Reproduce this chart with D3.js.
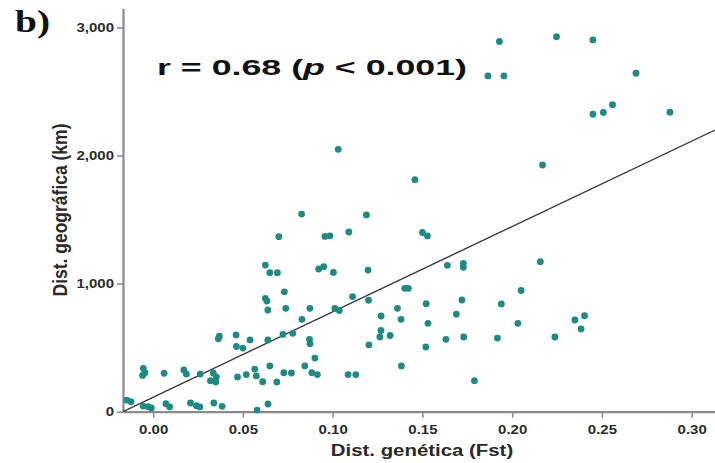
<!DOCTYPE html>
<html>
<head>
<meta charset="utf-8">
<script src="https://cdn.jsdelivr.net/npm/d3@7"></script>
<style>
  html, body { margin: 0; padding: 0; background: #fff; }
  svg { display: block; }
  text { font-family: "Liberation Sans", Arial, sans-serif; }
</style>
</head>
<body>
<svg id="chart" width="715" height="463"></svg>
<script>
// Genetic distance (Fst) vs geographic distance (km) for each population pair
const fst = [
  0.1929, 0.2247, 0.2450, 0.1865, 0.1954, 0.2690, 0.2450, 0.2508, 0.2559, 0.2879,
  0.2169, 0.1458, 0.1031, 0.0827, 0.1188, 0.0700, 0.0957, 0.0985, 0.1090, 0.1500,
  0.1528, 0.0625, 0.0650, 0.0692, 0.0922, 0.0950, 0.1004, 0.1197, 0.1639, 0.1728,
  0.1728, 0.2157, 0.0731, 0.0625, 0.0634, 0.0639, 0.0739, 0.0873, 0.1012, 0.1037,
  0.1111, 0.1200, 0.1402, 0.1422, 0.1361, 0.1521, 0.1720, 0.1940, 0.2050, 0.0829,
  0.1270, 0.1381, 0.1531, 0.1689, 0.2032, 0.2349, 0.2403, 0.2384, 0.0369, 0.0363,
  0.0462, 0.0540, 0.0464, 0.0500, 0.0639, 0.0723, 0.0778, 0.0871, 0.0874, 0.1269,
  0.1263, 0.1320, 0.1202, 0.1631, 0.1730, 0.1918, 0.2238, 0.1519, 0.0901, -0.0055,
  -0.0046, -0.0059, 0.0061, 0.0171, 0.0185, 0.0262, 0.0335, 0.0352, 0.0319, 0.0349,
  0.0470, 0.0519, 0.0566, 0.0575, 0.0610, 0.0650, 0.0689, 0.0728, 0.0770, 0.0845,
  0.0884, 0.0915, 0.1086, 0.1129, 0.1383, 0.1790, -0.0147, -0.0124, -0.0056, -0.0028,
  -0.0010, 0.0071, 0.0092, 0.0208, 0.0241, 0.0260, 0.0338, 0.0384, 0.0579, 0.0640
];
const distKm = [
  2890, 2927, 2902, 2621, 2621, 2642, 2322, 2336, 2397, 2338,
  1926, 1811, 2048, 1543, 1536, 1366, 1368, 1373, 1403, 1399,
  1372, 1145, 1085, 1085, 1114, 1132, 1087, 1106, 1143, 1158,
  1127, 1171, 936, 885, 864, 794, 807, 807, 806, 790,
  899, 870, 963, 963, 807, 843, 872, 841, 946, 721,
  747, 721, 690, 761, 690, 716, 749, 646, 589, 569,
  599, 560, 509, 497, 560, 603, 612, 565, 530, 634,
  583, 595, 521, 565, 583, 575, 583, 505, 419, 339,
  304, 283, 300, 326, 294, 294, 302, 271, 242, 232,
  271, 290, 333, 279, 234, 357, 232, 304, 302, 357,
  304, 290, 290, 290, 357, 242, 91, 78, 44, 39,
  29, 62, 37, 68, 47, 37, 68, 42, 13, 60
];

// Axis ticks
const xTicks = [0, 0.05, 0.10, 0.15, 0.20, 0.25, 0.30];
const yTicks = [0, 1000, 2000, 3000];

// Least-squares fit line (km = intercept + slope * Fst)
const fitIntercept = 113;
const fitSlope = 6664;

const panelLabel = "b)";
const corrLabel = { r: "r = 0.68 (", p: "p", rest: " < 0.001)" };
const xTitle = "Dist. genética (Fst)";
const yTitle = "Dist. geográfica (km)";

const svg = d3.select("#chart");

const x = d3.scaleLinear().domain([-0.0168, 0.313]).range([123, 715]);
const y = d3.scaleLinear().domain([0, 3150]).range([411.7, 8.2]);

const axisColor = "#8a8a8a";
const textColor = "#2a2a2a";

// Y axis
const yAxis = svg.append("g")
  .attr("transform", `translate(${x.range()[0]},0)`)
  .call(d3.axisLeft(y).tickValues(yTicks).tickFormat(d3.format(",")).tickSize(6).tickSizeOuter(0).tickPadding(3));
yAxis.select(".domain").attr("stroke", axisColor).attr("stroke-width", 2.2);
yAxis.selectAll(".tick line").attr("stroke", axisColor).attr("stroke-width", 1.5);
yAxis.selectAll(".tick text")
  .attr("fill", textColor)
  .attr("font-size", 12.5)
  .attr("font-weight", "bold")
  .attr("x", -9 / 1.2)
  .attr("transform", "scale(1.2,1)");

// X axis
const xAxis = svg.append("g")
  .attr("transform", `translate(0,${y.range()[0]})`)
  .call(d3.axisBottom(x).tickValues(xTicks).tickFormat(d3.format(".2f")).tickSize(6).tickSizeOuter(0).tickPadding(7));
xAxis.select(".domain").attr("stroke", axisColor).attr("stroke-width", 2.2);
xAxis.selectAll(".tick line").attr("stroke", axisColor).attr("stroke-width", 1.5);
xAxis.selectAll(".tick text")
  .attr("fill", textColor)
  .attr("font-size", 12.5)
  .attr("font-weight", "bold")
  .attr("transform", "scale(1.2,1)");

// Fit line across the full x domain
const [x0, x1] = x.domain();
svg.append("line")
  .attr("x1", x(x0)).attr("y1", y(fitIntercept + fitSlope * x0))
  .attr("x2", x(x1)).attr("y2", y(fitIntercept + fitSlope * x1))
  .attr("stroke", "#3a3a3a")
  .attr("stroke-width", 1.4);

// Population pairs
const points = fst.map((f, i) => ({ f, d: distKm[i] }));
svg.append("g")
  .selectAll("circle")
  .data(points)
  .join("circle")
  .attr("cx", p => x(p.f))
  .attr("cy", p => y(p.d))
  .attr("r", 3.4)
  .attr("fill", "#1f8a82");

// Axis titles
svg.append("text")
  .attr("transform", "translate(422,456) scale(1.2,1)")
  .attr("text-anchor", "middle")
  .attr("font-size", 17)
  .attr("font-weight", "bold")
  .attr("fill", textColor)
  .text(xTitle);

svg.append("text")
  .attr("transform", "translate(67,210) rotate(-90) scale(1,1.2)")
  .attr("text-anchor", "middle")
  .attr("font-size", 17.5)
  .attr("font-weight", "bold")
  .attr("fill", textColor)
  .text(yTitle);

// Correlation annotation
const corr = svg.append("text")
  .attr("x", 157)
  .attr("y", 75)
  .attr("font-size", 22)
  .attr("font-weight", "900")
  .attr("fill", "#111")
  .attr("textLength", 310)
  .attr("lengthAdjust", "spacingAndGlyphs");
corr.append("tspan").text(corrLabel.r);
corr.append("tspan").attr("font-style", "italic").text(corrLabel.p);
corr.append("tspan").text(corrLabel.rest);

// Panel letter (serif face)
svg.append("text")
  .style("font-family", "'Liberation Serif', 'Times New Roman', serif")
  .attr("x", 15)
  .attr("y", 32)
  .attr("font-size", 31)
  .attr("font-weight", "bold")
  .attr("fill", "#111")
  .attr("textLength", 35)
  .attr("lengthAdjust", "spacingAndGlyphs")
  .text(panelLabel);
</script>
</body>
</html>
